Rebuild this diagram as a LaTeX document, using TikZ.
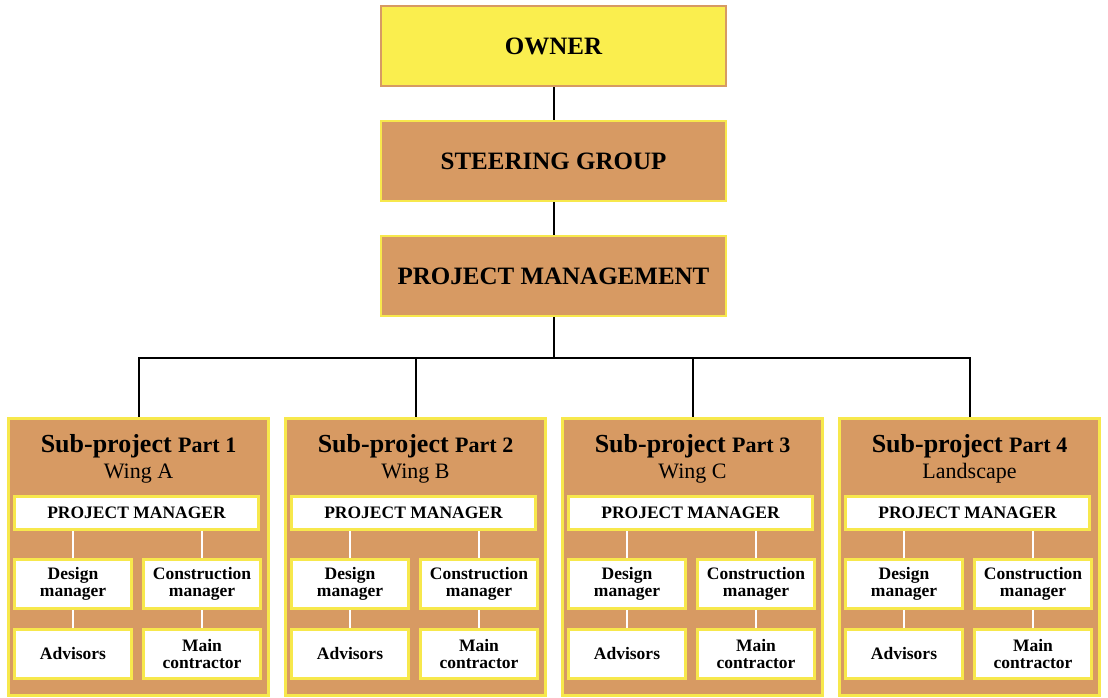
\documentclass[tikz,border=0pt]{standalone}
\usepackage{fontspec}
\setmainfont{Liberation Serif}
\usetikzlibrary{positioning}
\definecolor{boxtan}{HTML}{D79A63}
\definecolor{boxyellow}{HTML}{FAEE4E}
\definecolor{rimyellow}{HTML}{F7E84C}

\begin{document}
\begin{tikzpicture}[
  x=1pt, y=-1pt,
  node distance=33pt,
  box/.style={draw, rectangle, minimum width=345pt, minimum height=80pt, align=center, line width=2pt, font=\fontsize{25}{28}\selectfont\bfseries},
  head/.style={box, fill=boxyellow, draw=boxtan},
  board/.style={box, fill=boxtan, draw=rimyellow},
  sub/.style={draw=rimyellow, fill=boxtan, line width=2.5pt, minimum width=260pt, minimum height=277pt},
  role/.style={draw=rimyellow, fill=white, line width=3pt, align=center, inner sep=0pt, font=\fontsize{17.5}{16.5}\selectfont\bfseries},
  wide/.style={role, minimum width=244pt, minimum height=33pt},
  half/.style={role, minimum width=117pt, minimum height=49pt},
  link/.style={black, line width=2pt},
  sublink/.style={white, line width=2.5pt}
]
  \useasboundingbox (0,0) rectangle (1108,697);

  % Nodes
  \node[head] (owner) at (553.5,46) {OWNER};
  \node[board, below=of owner] (steer) {STEERING GROUP};
  \node[board, below=of steer] (pm) {PROJECT MANAGEMENT};
  \coordinate (bus) at (553.5,358);

  % Arrows
  \draw[link] (owner) -- (steer);
  \draw[link] (steer) -- (pm);
  \draw[link] (pm) -- (bus);

  % Sub-projects
  \foreach \c/\n/\wing in {138.5/1/Wing A, 415.5/2/Wing B, 692.5/3/Wing C, 969.5/4/Landscape}{
    \draw[link] (\c,418) |- (bus);
    \node[sub] (sub\n) at (\c,557) {};
    \node[anchor=base, inner sep=0pt] (title\n) at (\c,452)
      {\fontsize{26}{28}\selectfont\bfseries Sub-project {\fontsize{22}{28}\selectfont Part \n}};
    \node[anchor=base, inner sep=0pt, font=\fontsize{22}{24}\selectfont] (wing\n) at (\c,478) {\wing};
    \node[wide] (mgr\n) at (\c-2,513) {PROJECT MANAGER};
    \node[half] (design\n) at (\c-65.5,584) {Design\\manager};
    \node[half] (build\n) at (\c+63.5,584) {Construction\\manager};
    \node[half] (adv\n) at (\c-65.5,654) {Advisors};
    \node[half] (main\n) at (\c+63.5,654) {Main\\contractor};
    \draw[sublink] (design\n.north) -- (design\n.north |- mgr\n.south);
    \draw[sublink] (build\n.north) -- (build\n.north |- mgr\n.south);
    \draw[sublink] (design\n) -- (adv\n);
    \draw[sublink] (build\n) -- (main\n);
  }
\end{tikzpicture}
\end{document}
